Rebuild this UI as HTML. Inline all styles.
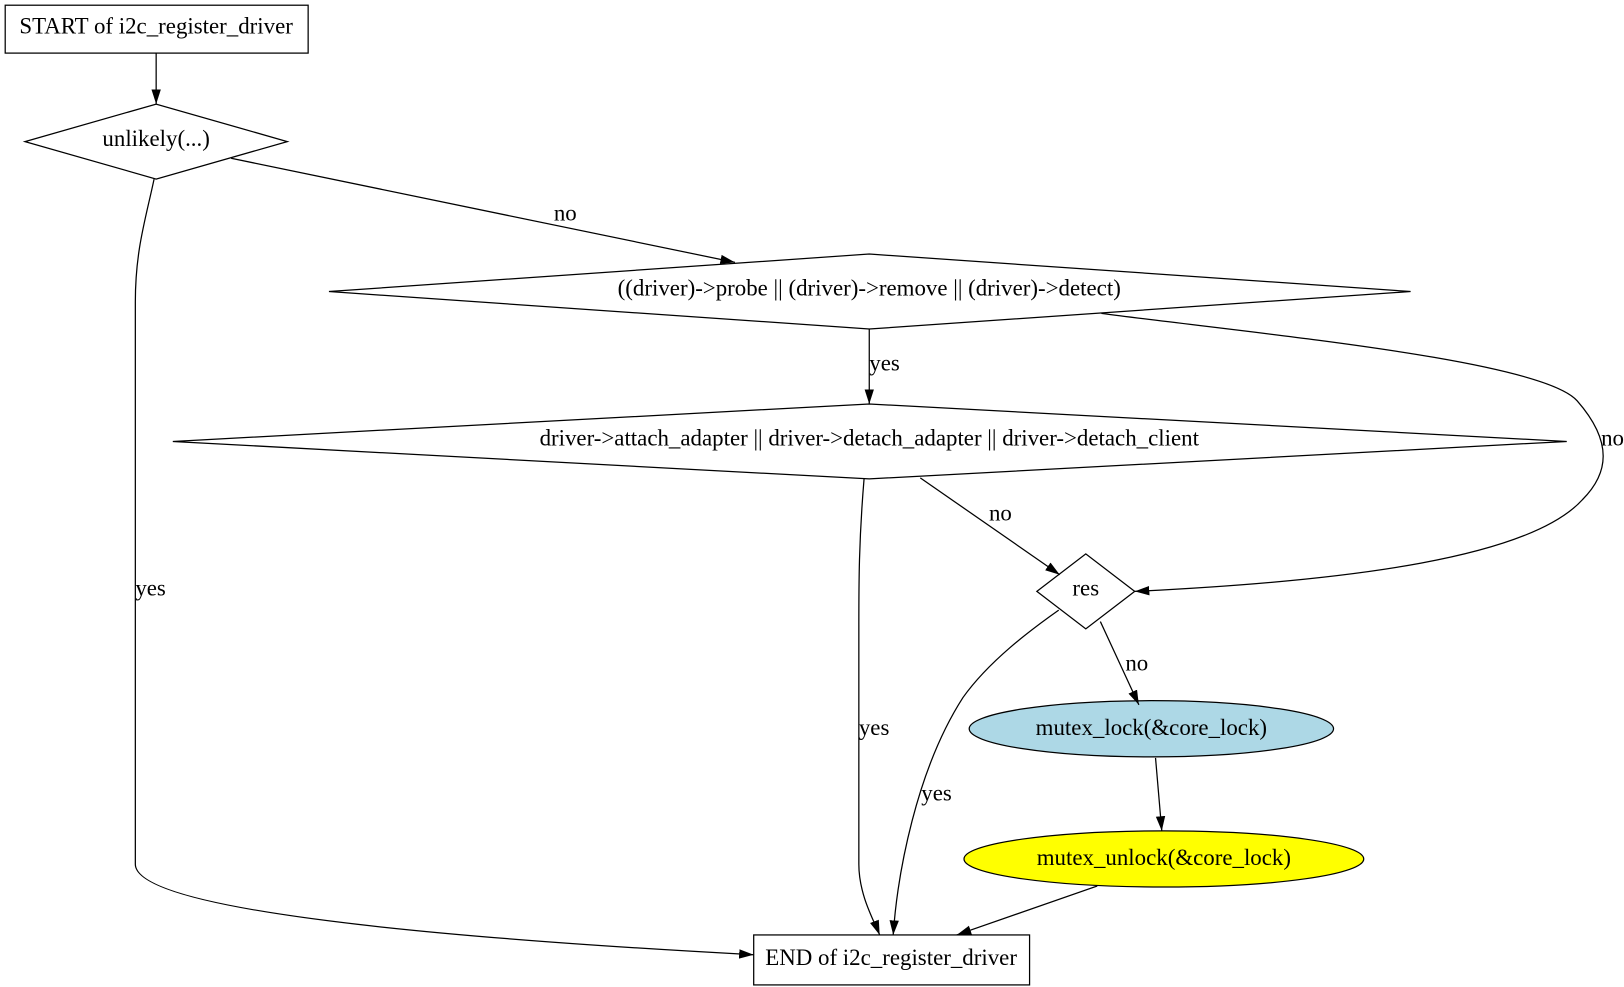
<!DOCTYPE html>
<html><head><meta charset="utf-8"><style>
html,body{margin:0;padding:0;background:#fff;}
svg{display:block;}
text{font-family:"Liberation Serif",serif;font-size:22px;fill:#000;}
</style></head><body>
<svg width="1624" height="987" viewBox="0 0 1560 948" preserveAspectRatio="none">
<defs><marker id="a" viewBox="0 0 14 10" refX="14" refY="5" markerWidth="14" markerHeight="10" markerUnits="userSpaceOnUse" orient="auto"><path d="M0,0.5 L14,5 L0,9.5z" fill="#000"/></marker></defs>
<g fill="none" stroke="#000" stroke-width="1.2">
<rect x="5" y="5" width="291" height="46" fill="#fff"/>
<polygon points="24,136 150,100 276,136 150,172" fill="#fff"/>
<polygon points="316,280 835,244 1355,280 835,316" fill="#fff"/>
<polygon points="166,424 835,388 1505,424 835,460" fill="#fff"/>
<polygon points="996,568 1043,532 1090,568 1043,604" fill="#fff"/>
<ellipse cx="1106" cy="700" rx="175" ry="27" fill="#add8e6"/>
<ellipse cx="1118" cy="825" rx="192" ry="27" fill="#ffff00"/>
<rect x="724" y="898" width="265" height="48" fill="#fff"/>
<g marker-end="url(#a)">
<path d="M150,51 L150,100"/>
<path d="M222,152 L706,252"/>
<path d="M148,172 C140,210 130,240 130,290 L130,830 C130,880 500,905 724,917"/>
<path d="M835,316 L835,388"/>
<path d="M1058,301 C1200,320 1480,345 1515,385 C1550,425 1545,455 1520,480 C1470,535 1300,558 1090,568"/>
<path d="M830,460 C825,520 825,560 825,600 L825,830 C825,860 840,885 845,898"/>
<path d="M884,459 L1018,552"/>
<path d="M1017,586 C990,605 950,635 925,670 C880,740 862,840 858,898"/>
<path d="M1057,597 L1094,677"/>
<path d="M1110,728 L1116,798"/>
<path d="M1054,851 L919,898"/>
</g></g>
<g text-anchor="middle">
<text x="150" y="32">START of i2c_register_driver</text>
<text x="150" y="140">unlikely(...)</text>
<text x="835" y="284">((driver)-&gt;probe || (driver)-&gt;remove || (driver)-&gt;detect)</text>
<text x="835" y="428">driver-&gt;attach_adapter || driver-&gt;detach_adapter || driver-&gt;detach_client</text>
<text x="1043" y="572">res</text>
<text x="1106" y="706">mutex_lock(&amp;core_lock)</text>
<text x="1118" y="831">mutex_unlock(&amp;core_lock)</text>
<text x="856" y="927">END of i2c_register_driver</text>
</g>
<text x="532" y="212">no</text>
<text x="130" y="572">yes</text>
<text x="835" y="356">yes</text>
<text x="1538" y="428">no</text>
<text x="825" y="706">yes</text>
<text x="950" y="500">no</text>
<text x="885" y="769">yes</text>
<text x="1081" y="644">no</text>
</svg>
</body></html>
